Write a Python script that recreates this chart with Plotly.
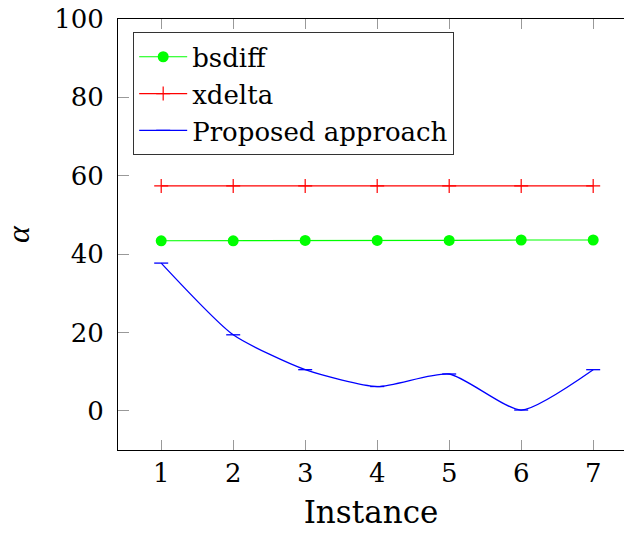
import plotly.graph_objects as go

instances = [1, 2, 3, 4, 5, 6, 7]
bsdiff = [43.4, 43.4, 43.5, 43.5, 43.5, 43.6, 43.6]
xdelta = [57.4, 57.4, 57.4, 57.4, 57.4, 57.4, 57.4]
proposed = [37.7, 19.4, 10.5, 6.2, 9.4, 0.2, 10.5]
y_ticks = [0, 20, 40, 60, 80, 100]

FONT = "DejaVu Serif"
FS = 26

fig = go.Figure()
fig.add_trace(go.Scatter(
    x=instances, y=bsdiff, name="bsdiff", mode="lines+markers",
    line=dict(color="#00ff00", width=1.2),
    marker=dict(symbol="circle", size=11, color="#00ff00"),
))
fig.add_trace(go.Scatter(
    x=instances, y=xdelta, name="xdelta", mode="lines+markers",
    line=dict(color="#ff0000", width=1.2),
    marker=dict(symbol="cross-thin", size=10, color="#ff0000",
                line=dict(color="#ff0000", width=1.2)),
))
fig.add_trace(go.Scatter(
    x=instances, y=proposed, name="Proposed approach", mode="lines+markers",
    line=dict(color="#0000ff", width=1.3, shape="spline", smoothing=0.6),
    marker=dict(symbol="line-ew", size=10, color="#0000ff",
                line=dict(color="#0000ff", width=1.3)),
))

fig.update_layout(
    width=624, height=534,
    margin=dict(l=118, r=0, t=19, b=84),
    paper_bgcolor="white", plot_bgcolor="white",
    font=dict(family=FONT, size=FS, color="black"),
    showlegend=True,
    legend=dict(
        x=0.030, y=0.969, xanchor="left", yanchor="top",
        bordercolor="#333", borderwidth=1, bgcolor="white",
        font=dict(family=FONT, size=FS),
        tracegroupgap=0, itemwidth=48,
    ),
    xaxis=dict(
        range=[0.4, 7.428], tickvals=instances, ticktext=[str(i) for i in instances],
        showline=True, linecolor="black", linewidth=1, mirror="ticks",
        ticks="inside", ticklen=10, tickcolor="#999", tickwidth=1,
        showgrid=False, zeroline=False, automargin=False,
        ticklabeloverflow="allow",
        title=dict(text="Instance", standoff=14),
    ),
    yaxis=dict(
        range=[-10, 100], tickvals=y_ticks,
        showline=True, linecolor="black", linewidth=1,
        ticks="inside", ticklen=11, tickcolor="#999", tickwidth=1,
        showgrid=False, zeroline=False, ticklabelstandoff=8, automargin=False,
        ticklabeloverflow="allow",
        title=dict(text="<i>α</i>", standoff=30,
                   font=dict(family="Liberation Serif", size=32)),
    ),
)

fig.write_html(
    "out.html",
    config={"displayModeBar": False},
    post_script="document.body.style.margin='0';document.body.style.overflow='hidden';",
)
